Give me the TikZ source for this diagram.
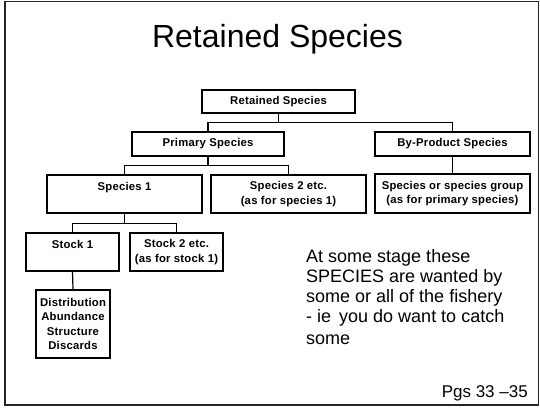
\documentclass[tikz,border=0pt]{standalone}
\usepackage{fontspec}
\setmainfont{Liberation Sans}
\newfontfamily\boxfont[LetterSpace=2]{Liberation Sans}
\begin{document}
\begin{tikzpicture}[x=1pt,y=-1pt,
    sbox/.style={draw, line width=1.3pt, inner sep=0pt, align=center,
      font=\boxfont\fontsize{11.3}{14.5}\selectfont\bfseries},
    link/.style={line width=1.2pt}]
      \useasboundingbox (0,0) rectangle (540,407);
      \draw [line width=1.2pt, black!85] (5,1.5) rectangle (538.5,405);

      %% title
      \node [anchor=base, font=\fontsize{32}{38}\selectfont] (title) at (277.5,47) {Retained Species};

      %% tree
      \node [sbox, minimum width=153pt, minimum height=23pt] (ret) at (278.5,101.5) {Retained Species};
      \node [sbox, minimum width=152pt, minimum height=24pt] (prim) at (208,144) {Primary Species};
      \node [sbox, minimum width=155pt, minimum height=24pt] (byp) at (452.5,144) {By-Product Species};
      \node [sbox, minimum width=155pt, minimum height=38pt] (sp1) at (124.5,194) {Species 1\\~};
      \node [sbox, minimum width=155pt, minimum height=38pt] (sp2) at (288.5,194) {Species 2 etc.\\(as for species 1)};
      \node [sbox, minimum width=155pt, minimum height=39pt] (grp) at (452.5,193.5) {Species or species group\\(as for primary species)};
      \node [sbox, minimum width=93pt, minimum height=38pt] (st1) at (72.5,252) {Stock 1\\~};
      \node [sbox, minimum width=93pt, minimum height=38pt] (st2) at (176.5,252) {Stock 2 etc.\\(as for stock 1)};
      \node [sbox, minimum width=74pt, minimum height=68pt] (disc) at (73,324) {Distribution\\Abundance\\Structure\\Discards};

      \draw [link] (ret.south) -- ++(0,9) -| (prim.north);
      \draw [link] (ret.south) -- ++(0,9) -| (byp.north);
      \draw [link] (prim.south) -- ++(0,9) -| (sp1.north);
      \draw [link] (prim.south) -- ++(0,9) -| (sp2.north);
      \draw [link] (byp.south) -- (grp.north);
      \draw [link] (sp1.south) -- ++(0,10) -| (st1.north);
      \draw [link] (sp1.south) -- ++(0,10) -| (st2.north);
      \draw [link] (st1.south) -- (disc.north);

      %% note
      \node [anchor=north west, inner sep=0pt, align=left, font=\fontsize{18}{20}\selectfont] (note) at (306,249)
        {At some stage these\\SPECIES are wanted by\\some or all of the fishery\\- ie\, you do want to catch\\[2pt]some};
      \node [anchor=base east, inner sep=0pt, font=\fontsize{17}{20}\selectfont] (pgs) at (528,397) {Pgs 33 --35};
\end{tikzpicture}
\end{document}
